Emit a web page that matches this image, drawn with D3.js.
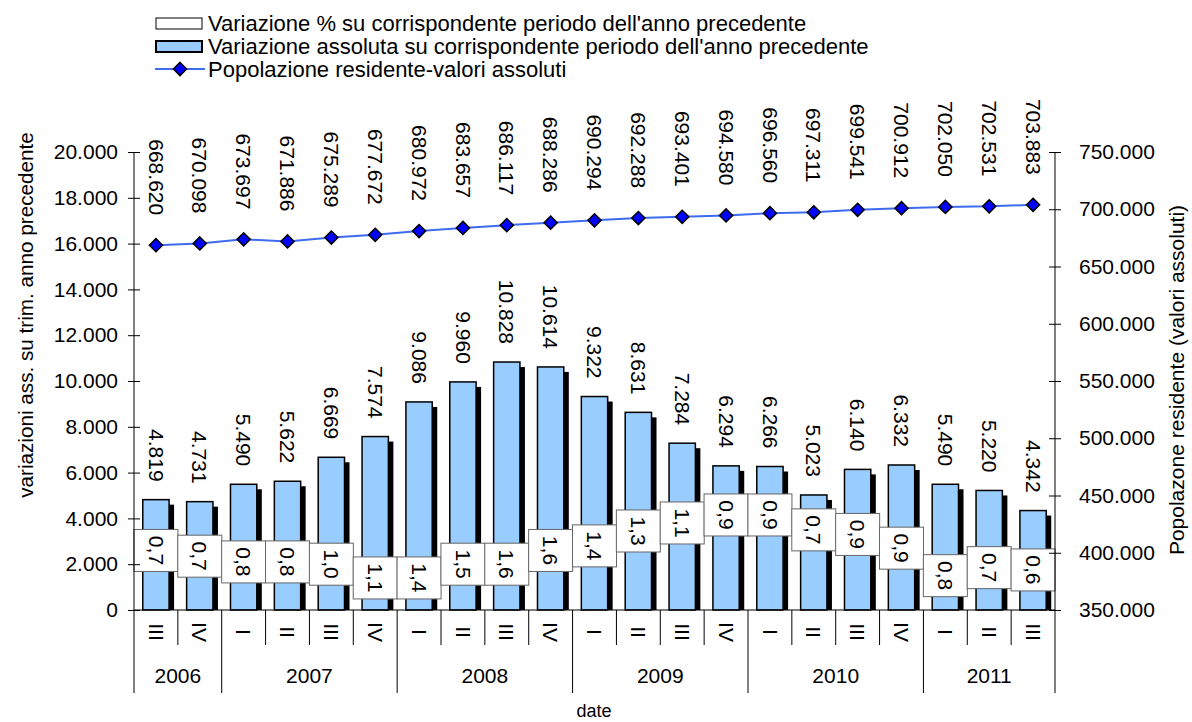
<!DOCTYPE html>
<html>
<head>
<meta charset="utf-8">
<script src="https://cdn.jsdelivr.net/npm/d3@7"></script>
<style>
  body { margin: 0; background: #fff; }
  text { font-family: "Liberation Sans", Arial, sans-serif; fill: #000; }
</style>
</head>
<body>
<div id="chart"></div>
<script>
// Data

var quarters = ["III", "IV", "I", "II", "III", "IV", "I", "II", "III", "IV", "I", "II", "III", "IV", "I", "II", "III", "IV", "I", "II", "III"];
var years = ["2006", "2006", "2007", "2007", "2007", "2007", "2008", "2008", "2008", "2008", "2009", "2009", "2009", "2009", "2010", "2010", "2010", "2010", "2011", "2011", "2011"];
var varAssoluta = [4819, 4731, 5490, 5622, 6669, 7574, 9086, 9960, 10828, 10614, 9322, 8631, 7284, 6294, 6266, 5023, 6140, 6332, 5490, 5220, 4342];
var popolazione = [668620, 670098, 673697, 671886, 675289, 677672, 680972, 683657, 686117, 688286, 690294, 692288, 693401, 694580, 696560, 697311, 699541, 700912, 702050, 702531, 703883];
var varPercent = [0.7, 0.7, 0.8, 0.8, 1.0, 1.1, 1.4, 1.5, 1.6, 1.6, 1.4, 1.3, 1.1, 0.9, 0.9, 0.7, 0.9, 0.9, 0.8, 0.7, 0.6];
// where excel parked the % labels, in left axis units
var pctLabelAt = [2600, 2350, 2100, 2100, 2000, 1400, 1400, 2000, 2000, 2600, 2800, 3450, 3800, 4150, 4150, 3500, 3300, 2700, 1500, 1850, 1750];
var leftTicks = [0, 2000, 4000, 6000, 8000, 10000, 12000, 14000, 16000, 18000, 20000];
var rightTicks = [350000, 400000, 450000, 500000, 550000, 600000, 650000, 700000, 750000];

var legendLabels = [
  "Variazione % su corrispondente periodo dell'anno precedente",
  "Variazione assoluta su corrispondente periodo dell'anno precedente",
  "Popolazione residente-valori assoluti"
];

// Italian number format
var it = d3.formatLocale({ decimal: ",", thousands: ".", grouping: [3], currency: ["€", ""] });
var fmtInt = it.format(",d");
var fmtPct = it.format(".1f");

// Margin and SVG initialization
var svgWidth = 1192, svgHeight = 722;
var margin = { top: 152, right: 137, bottom: 112, left: 134 };
var width = svgWidth - margin.left - margin.right;
var height = svgHeight - margin.top - margin.bottom;

var svg = d3.select("#chart")
  .append("svg")
  .attr("width", svgWidth)
  .attr("height", svgHeight);

var chartGroup = svg.append("g")
  .attr("transform", `translate(${margin.left}, ${margin.top})`);

var idx = d3.range(quarters.length);

var x = d3.scaleBand()
  .domain(idx)
  .range([0, width])
  .paddingInner(0.4)
  .paddingOuter(0.2);

var step = x.step();
var catStart = i => x(i) - step * 0.2;

var yLeft = d3.scaleLinear().domain([0, 20000]).range([height, 0]);
var yRight = d3.scaleLinear().domain([350000, 750000]).range([height, 0]);

// bars: shadow then bar
chartGroup.selectAll(".shadow")
  .data(idx)
  .enter()
  .append("rect")
  .attr("x", i => x(i) + 5)
  .attr("y", i => yLeft(varAssoluta[i]) + 5)
  .attr("width", x.bandwidth())
  .attr("height", i => height - yLeft(varAssoluta[i]) - 5)
  .attr("fill", "#000");

chartGroup.selectAll(".bar")
  .data(idx)
  .enter()
  .append("rect")
  .attr("x", i => x(i))
  .attr("y", i => yLeft(varAssoluta[i]))
  .attr("width", x.bandwidth())
  .attr("height", i => height - yLeft(varAssoluta[i]))
  .attr("fill", "#99CCFF")
  .attr("stroke", "#000")
  .attr("stroke-width", 1.5);

// bar value labels
chartGroup.selectAll(".barlabel")
  .data(idx)
  .enter()
  .append("text")
  .attr("transform", i => `translate(${x(i) + x.bandwidth() / 2}, ${yLeft(varAssoluta[i]) - 18}) rotate(90)`)
  .attr("text-anchor", "end")
  .attr("dy", "0.35em")
  .style("font-size", "21px")
  .text(i => fmtInt(varAssoluta[i]));

// % boxes
var pctG = chartGroup.selectAll(".pct")
  .data(idx)
  .enter()
  .append("g")
  .attr("transform", i => `translate(${catStart(i) + step / 2}, ${yLeft(pctLabelAt[i])})`);

pctG.append("rect")
  .attr("x", -22)
  .attr("y", -21)
  .attr("width", 44)
  .attr("height", 42)
  .attr("fill", "#fff")
  .attr("stroke", "#666")
  .attr("stroke-width", 1);

pctG.append("text")
  .attr("transform", "rotate(90)")
  .attr("text-anchor", "middle")
  .attr("dy", "0.35em")
  .style("font-size", "21px")
  .text(i => fmtPct(varPercent[i]));

// population line
var line = d3.line()
  .x(i => x(i) + x.bandwidth() / 2)
  .y(i => yRight(popolazione[i]));

chartGroup.append("path")
  .datum(idx)
  .attr("d", line)
  .attr("fill", "none")
  .attr("stroke", "#3D6CF0")
  .attr("stroke-width", 2);

var diamond = d3.symbol().type(d3.symbolDiamond2).size(110);

chartGroup.selectAll(".marker")
  .data(idx)
  .enter()
  .append("path")
  .attr("d", diamond)
  .attr("transform", i => `translate(${x(i) + x.bandwidth() / 2}, ${yRight(popolazione[i])})`)
  .attr("fill", "#0000FF")
  .attr("stroke", "#000")
  .attr("stroke-width", 1.5);

chartGroup.selectAll(".poplabel")
  .data(idx)
  .enter()
  .append("text")
  .attr("transform", i => `translate(${x(i) + x.bandwidth() / 2}, ${yRight(popolazione[i]) - 30}) rotate(90)`)
  .attr("text-anchor", "end")
  .attr("dy", "0.35em")
  .style("font-size", "21px")
  .text(i => fmtInt(popolazione[i]));

// axes
var leftAxis = chartGroup.append("g")
  .call(d3.axisLeft(yLeft).tickValues(leftTicks).tickFormat(fmtInt).tickSize(6).tickPadding(10));
leftAxis.selectAll(".tick line").attr("x1", 6);

var rightAxis = chartGroup.append("g")
  .attr("transform", `translate(${width}, 0)`)
  .call(d3.axisRight(yRight).tickValues(rightTicks).tickFormat(fmtInt).tickSize(6).tickPadding(18));
rightAxis.selectAll(".tick line").attr("x1", -6);

[leftAxis, rightAxis].forEach(function(a) {
  a.select(".domain").remove();
  a.selectAll("text").style("font-size", "21px").style("font-family", "'Liberation Sans', Arial, sans-serif");
  a.selectAll("line").attr("stroke", "#000");
});

chartGroup.append("line").attr("x1", 0).attr("x2", 0).attr("y1", 0).attr("y2", height + 83).attr("stroke", "#000");
chartGroup.append("line").attr("x1", width).attr("x2", width).attr("y1", 0).attr("y2", height + 83).attr("stroke", "#000");
chartGroup.append("line").attr("x1", 0).attr("x2", width).attr("y1", height).attr("y2", height).attr("stroke", "#000");

// category separators
chartGroup.selectAll(".sep")
  .data(idx.slice(1))
  .enter()
  .append("line")
  .attr("x1", i => catStart(i))
  .attr("x2", i => catStart(i))
  .attr("y1", height)
  .attr("y2", i => years[i] !== years[i - 1] ? height + 83 : height + 35)
  .attr("stroke", "#000");

// quarter labels
chartGroup.selectAll(".qlabel")
  .data(idx)
  .enter()
  .append("text")
  .attr("transform", i => `translate(${catStart(i) + step / 2}, ${height + 22}) rotate(90)`)
  .attr("text-anchor", "middle")
  .attr("dy", "0.35em")
  .style("font-size", "21px")
  .text(i => quarters[i]);

// year labels
var yearGroups = d3.groups(idx, i => years[i]);
chartGroup.selectAll(".ylabel")
  .data(yearGroups)
  .enter()
  .append("text")
  .attr("x", g => (catStart(g[1][0]) + catStart(g[1][g[1].length - 1]) + step) / 2)
  .attr("y", height + 73)
  .attr("text-anchor", "middle")
  .style("font-size", "21px")
  .text(g => g[0]);

// axis titles
svg.append("text")
  .attr("transform", "translate(26, 315) rotate(-90)")
  .attr("text-anchor", "middle")
  .attr("dy", "0.35em")
  .style("font-size", "20.7px")
  .text("variazioni ass. su trim. anno precedente");

svg.append("text")
  .attr("transform", "translate(1177, 380) rotate(-90)")
  .attr("text-anchor", "middle")
  .attr("dy", "0.35em")
  .style("font-size", "21px")
  .text("Popolazone residente (valori assoluti)");

svg.append("text")
  .attr("x", 594)
  .attr("y", 717)
  .attr("text-anchor", "middle")
  .style("font-size", "18px")
  .text("date");

// legend
var legend = svg.append("g").attr("transform", "translate(155, 23)");
var legRow = 23;

legend.append("rect").attr("x", 1).attr("y", -5).attr("width", 46).attr("height", 11)
  .attr("fill", "#fff").attr("stroke", "#000").attr("stroke-width", 1);
legend.append("rect").attr("x", 1).attr("y", legRow - 5).attr("width", 46).attr("height", 11)
  .attr("fill", "#99CCFF").attr("stroke", "#000").attr("stroke-width", 2);
legend.append("line").attr("x1", 0).attr("x2", 50).attr("y1", legRow * 2).attr("y2", legRow * 2)
  .attr("stroke", "#3D6CF0").attr("stroke-width", 2);
legend.append("path").attr("d", diamond)
  .attr("transform", `translate(25, ${legRow * 2})`)
  .attr("fill", "#0000FF").attr("stroke", "#000").attr("stroke-width", 1.5);

legend.selectAll(".legtext")
  .data(legendLabels)
  .enter()
  .append("text")
  .attr("x", 53)
  .attr("y", (d, i) => i * legRow)
  .attr("dy", "0.35em")
  .style("font-size", "22px")
  .text(d => d);
</script>
</body>
</html>
